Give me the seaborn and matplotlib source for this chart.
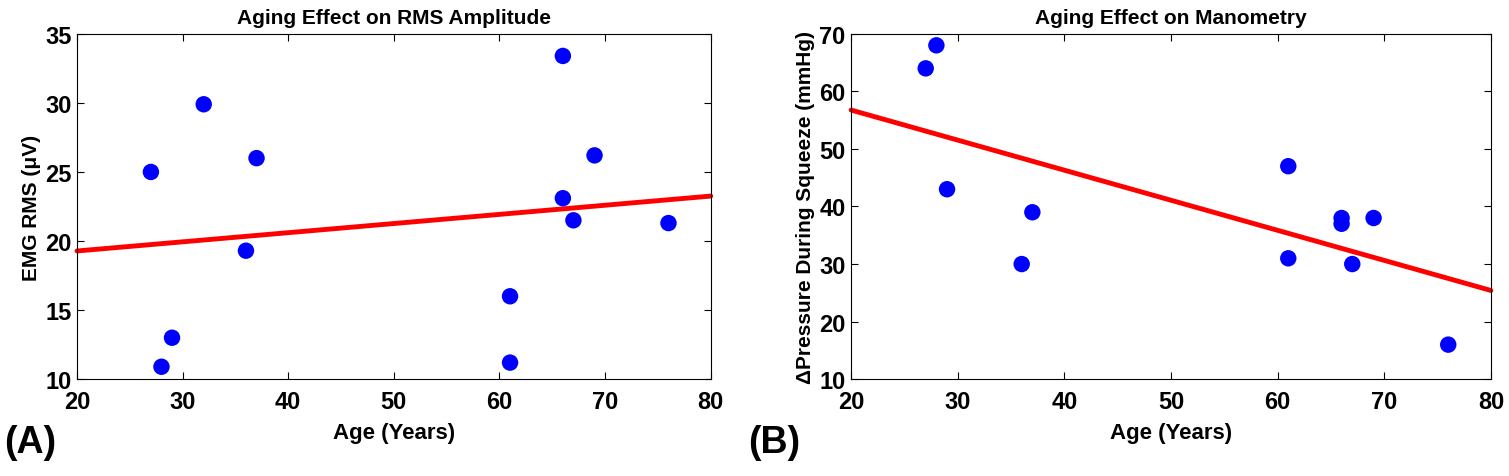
import matplotlib
matplotlib.use('Agg')
import matplotlib.pyplot as plt
import numpy as np
import pandas as pd
import seaborn as sns

sns.set_style('ticks')
plt.rcParams['font.family'] = ['Liberation Sans Narrow', 'Liberation Sans', 'DejaVu Sans']
plt.rcParams['font.weight'] = 'bold'
plt.rcParams['axes.labelweight'] = 'bold'
plt.rcParams['text.color'] = 'black'
plt.rcParams['axes.labelcolor'] = 'black'
plt.rcParams['xtick.color'] = 'black'
plt.rcParams['ytick.color'] = 'black'
plt.rcParams['axes.edgecolor'] = 'black'

# panel A: EMG RMS amplitude vs age
age_a = [27, 28, 29, 32, 36, 37, 61, 61, 66, 66, 67, 69, 76]
rms_a = [25.0, 10.9, 13.0, 29.9, 19.3, 26.0, 16.0, 11.2, 33.4, 23.1, 21.5, 26.2, 21.3]

# panel B: pressure change during squeeze vs age
age_b = [27, 28, 29, 36, 37, 61, 61, 66, 66, 67, 69, 76]
press_b = [64, 68, 43, 30, 39, 47, 31, 38, 37, 30, 38, 16]

xticks = [20, 30, 40, 50, 60, 70, 80]

fig = plt.figure(figsize=(15.09, 4.77), dpi=100)
ax1 = fig.add_axes([0.051, 0.203, 0.420, 0.724])
ax2 = fig.add_axes([0.564, 0.203, 0.424, 0.724])


def panel(ax, x, y, ylim, yticks, title, ylabel):
    df = pd.DataFrame({'x': x, 'y': y})
    sns.scatterplot(data=df, x='x', y='y', ax=ax, color='#0000ff', s=140,
                    edgecolor='none', zorder=3)
    slope, icpt = np.polyfit(x, y, 1)
    xs = np.array([20, 80])
    sns.lineplot(x=xs, y=slope * xs + icpt, ax=ax, color='#ff0000', lw=3.5,
                 zorder=2, clip_on=False)
    ax.set_xlim(20, 80)
    ax.set_ylim(*ylim)
    ax.set_xticks(xticks)
    ax.set_yticks(yticks)
    ax.tick_params(direction='in', top=True, right=True, labelsize=17,
                   length=5, width=0.8)
    ax.tick_params(axis='x', pad=8)
    ax.tick_params(axis='y', pad=4)
    for lab in ax.get_xticklabels() + ax.get_yticklabels():
        lab.set_fontweight('bold')
    for sp in ax.spines.values():
        sp.set_linewidth(0.8)
    ax.set_title(title, fontsize=15, fontweight='bold', pad=8)
    ax.set_xlabel('Age (Years)', fontsize=16, fontweight='bold', labelpad=6)
    ax.set_ylabel(ylabel, fontsize=15, fontweight='bold', labelpad=3)


panel(ax1, age_a, rms_a, (10, 35), [10, 15, 20, 25, 30, 35],
      'Aging Effect on RMS Amplitude', 'EMG RMS (\u03bcV)')
panel(ax2, age_b, press_b, (10, 70), [10, 20, 30, 40, 50, 60, 70],
      'Aging Effect on Manometry', '\u0394Pressure During Squeeze (mmHg)')

fig.text(0.003, 0.072, '(A)', fontsize=27, fontweight='bold', va='center')
fig.text(0.496, 0.072, '(B)', fontsize=27, fontweight='bold', va='center')

fig.savefig('out.png', dpi=100, facecolor='white')
